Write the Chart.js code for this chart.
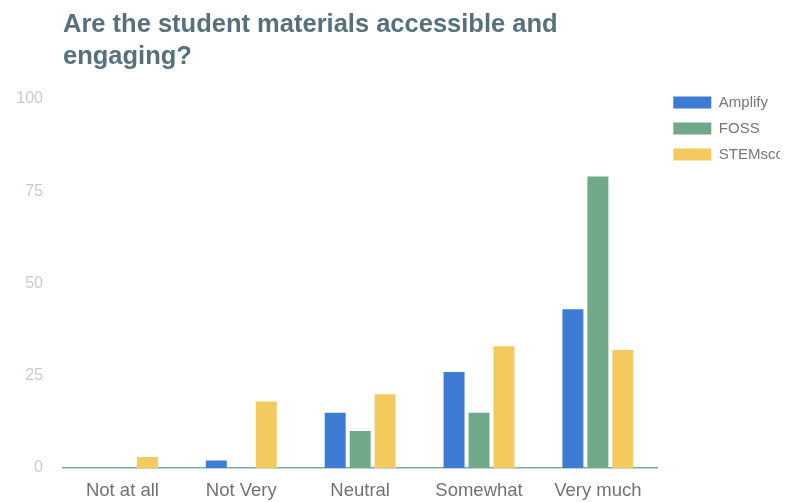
<!DOCTYPE html>
<html>
<head>
<meta charset="utf-8">
<title>Student materials</title>
<script src="https://cdn.jsdelivr.net/npm/chart.js@4.4.1/dist/chart.umd.min.js"></script>
<style>
    html, body { margin: 0; padding: 0; background: #fff; }
    body { width: 794px; height: 502px; overflow: hidden; position: relative; }
    .CHART-TITLE {
        position: absolute; left: 63px; top: 7px; z-index: 2;
        font: bold 25.5px "Liberation Sans", Arial, sans-serif;
        line-height: 32px; color: #56707e;
    }
    .CHART-CLIP { position: absolute; left: 0; top: 0; width: 780px; height: 502px; overflow: hidden; }
    .CHART-BOX { position: relative; width: 813px; height: 502px; }
</style>
</head>
<body>
<div class="CHART-TITLE">Are the student materials accessible and<br>engaging?</div>
<div class="CHART-CLIP"><div class="CHART-BOX"><canvas id="answersGraph"></canvas></div></div>
<script>
// Answer categories on the x axis
const categories = ['Not at all', 'Not Very', 'Neutral', 'Somewhat', 'Very much'];

// Answers per curriculum
const amplifyValues = [0, 2, 15, 26, 43];
const fossValues = [0, 0, 10, 15, 79];
const stemsValues = [3, 18, 20, 33, 32];

const seriesNames = ['Amplify', 'FOSS', 'STEMscopes'];
const yTicks = [0, 25, 50, 75, 100];

const colors = ['#3e7bd5', '#6fa98a', '#f2ca5e'];
const font = '"Liberation Sans", Arial, sans-serif';

// Legend sits higher and a bit further right than the layout puts it
const legendNudge = {
    id: 'legendNudge',
    afterLayout(chart) {
        const legend = chart.legend;
        legend.top -= 15;
        legend.bottom -= 15;
        legend.left += 5;
        legend.right += 5;
    }
};

function DrawGraph() {
    const dataset = [amplifyValues, fossValues, stemsValues].map((values, i) => ({
        label: seriesNames[i],
        data: values,
        backgroundColor: colors[i],
        borderWidth: 0,
        categoryPercentage: 0.63,
        barPercentage: 0.84
    }));

    const config = {
        type: 'bar',
        data: { labels: categories, datasets: dataset },
        options: {
            responsive: true,
            maintainAspectRatio: false,
            animation: false,
            layout: { padding: { top: 99, right: 0, bottom: 0, left: 0 } },
            plugins: {
                tooltip: { enabled: false },
                legend: {
                    position: 'right',
                    align: 'start',
                    labels: {
                        boxWidth: 38,
                        boxHeight: 12,
                        padding: 11,
                        color: '#777777',
                        font: { family: font, size: 15 }
                    }
                }
            },
            scales: {
                x: {
                    afterFit: scale => { scale.height = 34; },
                    grid: { display: false, drawTicks: false },
                    border: { display: true, color: '#7eab9b', width: 1.5 },
                    ticks: {
                        padding: 12,
                        color: '#727272',
                        font: { family: font, size: 18.5 }
                    }
                },
                y: {
                    min: 0,
                    max: 100,
                    afterBuildTicks: scale => { scale.ticks = yTicks.map(v => ({ value: v })); },
                    afterFit: scale => { scale.width = 63; },
                    grid: { display: false, drawTicks: false },
                    border: { display: false },
                    ticks: {
                        padding: 20,
                        color: '#c6cdd1',
                        font: { family: font, size: 16 }
                    }
                }
            }
        },
        plugins: [legendNudge]
    };

    try {
        new Chart(document.getElementById('answersGraph'), config);
    }
    catch (e) {
        console.error('Error draw graph', e);
    }
}

DrawGraph();
</script>
</body>
</html>
